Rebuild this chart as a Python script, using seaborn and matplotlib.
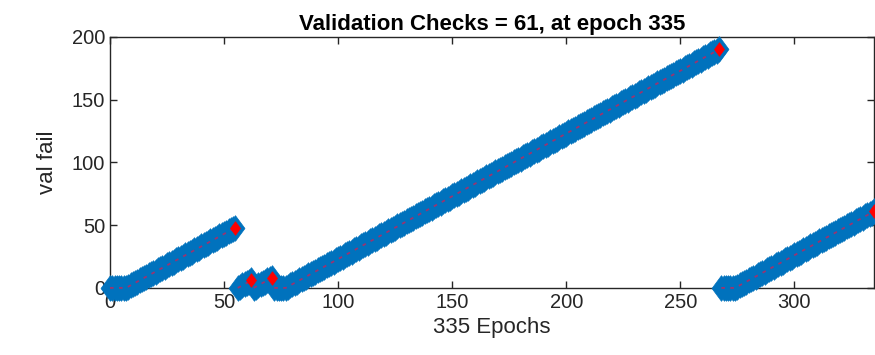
import matplotlib
matplotlib.use("Agg")
import matplotlib.pyplot as plt
import seaborn as sns
import numpy as np

# ---- data ----
epochs = list(range(0, 336))
val_fail = (
    [0, 0, 0, 0, 0, 0, 0, 0]
    + [1, 2, 3, 4, 5, 6, 7, 8, 9, 10, 11, 12, 13, 14, 15, 16, 17, 18, 19, 20,
       21, 22, 23, 24, 25, 26, 27, 28, 29, 30, 31, 32, 33, 34, 35, 36, 37, 38, 39, 40,
       41, 42, 43, 44, 45, 46, 47, 48]
    + [0, 1, 2, 3, 4, 5, 6]
    + [0, 1, 2, 3, 4, 5, 6, 7, 8]
    + [0, 0, 0, 0, 0, 0]
    + [1, 2, 3, 4, 5, 6, 7, 8, 9, 10, 11, 12, 13, 14, 15, 16, 17, 18, 19, 20,
       21, 22, 23, 24, 25, 26, 27, 28, 29, 30, 31, 32, 33, 34, 35, 36, 37, 38, 39, 40,
       41, 42, 43, 44, 45, 46, 47, 48, 49, 50, 51, 52, 53, 54, 55, 56, 57, 58, 59, 60,
       61, 62, 63, 64, 65, 66, 67, 68, 69, 70, 71, 72, 73, 74, 75, 76, 77, 78, 79, 80,
       81, 82, 83, 84, 85, 86, 87, 88, 89, 90, 91, 92, 93, 94, 95, 96, 97, 98, 99, 100,
       101, 102, 103, 104, 105, 106, 107, 108, 109, 110, 111, 112, 113, 114, 115, 116, 117, 118, 119, 120,
       121, 122, 123, 124, 125, 126, 127, 128, 129, 130, 131, 132, 133, 134, 135, 136, 137, 138, 139, 140,
       141, 142, 143, 144, 145, 146, 147, 148, 149, 150, 151, 152, 153, 154, 155, 156, 157, 158, 159, 160,
       161, 162, 163, 164, 165, 166, 167, 168, 169, 170, 171, 172, 173, 174, 175, 176, 177, 178, 179, 180,
       181, 182, 183, 184, 185, 186, 187, 188, 189, 190]
    + [0, 0, 0, 0, 0, 0, 0]
    + [1, 2, 3, 4, 5, 6, 7, 8, 9, 10, 11, 12, 13, 14, 15, 16, 17, 18, 19, 20,
       21, 22, 23, 24, 25, 26, 27, 28, 29, 30, 31, 32, 33, 34, 35, 36, 37, 38, 39, 40,
       41, 42, 43, 44, 45, 46, 47, 48, 49, 50, 51, 52, 53, 54, 55, 56, 57, 58, 59, 60,
       61]
)
red_epochs = [55, 62, 71, 267, 335]
red_vals = [48, 6, 8, 190, 61]
x_ticks = [0, 50, 100, 150, 200, 250, 300]
y_ticks = [0, 50, 100, 150, 200]
title = "Validation Checks = 61, at epoch 335"
x_label = "335 Epochs"
y_label = "val fail"

sns.set_theme(style="white")
plt.rcParams["font.family"] = ["Liberation Sans", "DejaVu Sans"]

fig = plt.figure(figsize=(8.75, 3.55), dpi=100)
ax = fig.add_axes([0.1257, 0.189, 0.8733, 0.707])

diamond = [(0, 1), (0.74, 0), (0, -1), (-0.74, 0), (0, 1)]
blue = "#0072BD"

# segment id (a new run starts wherever the counter resets)
segment = np.cumsum(np.diff(np.array(val_fail), prepend=0) < 0)

sns.scatterplot(x=epochs, y=val_fail, ax=ax, marker=diamond, s=340,
                color=blue, edgecolor=blue, linewidth=0.5, clip_on=False,
                zorder=3, legend=False)
sns.lineplot(x=epochs, y=val_fail, units=segment, ax=ax, color="#9a3470",
             linewidth=1.3, linestyle=(0, (2, 3)), sort=False, estimator=None,
             legend=False)
for ln in ax.lines:
    ln.set_clip_on(False)
    ln.set_zorder(4)
sns.scatterplot(x=red_epochs, y=red_vals, ax=ax, marker=diamond, s=95,
                color="#FF0000", edgecolor="#FF0000", linewidth=0.5,
                clip_on=False, zorder=5, legend=False)

ax.set_xlim(0, 335)
ax.set_ylim(0, 200)
ax.set_xticks(x_ticks)
ax.set_yticks(y_ticks)
gray = "#262626"
ax.tick_params(direction="in", length=5, width=1, colors=gray, labelsize=14.5,
               top=True, right=True, bottom=True, left=True)
for sp in ax.spines.values():
    sp.set_visible(True)
    sp.set_color(gray)
    sp.set_linewidth(1)
ax.set_xlabel(x_label, fontsize=16, color=gray, labelpad=4)
ax.set_ylabel(y_label, fontsize=16, color=gray, labelpad=10)
ax.set_title(title, fontsize=16, fontweight="bold", color="black", pad=5)
ax.grid(False)

fig.savefig("out.png", dpi=100)
